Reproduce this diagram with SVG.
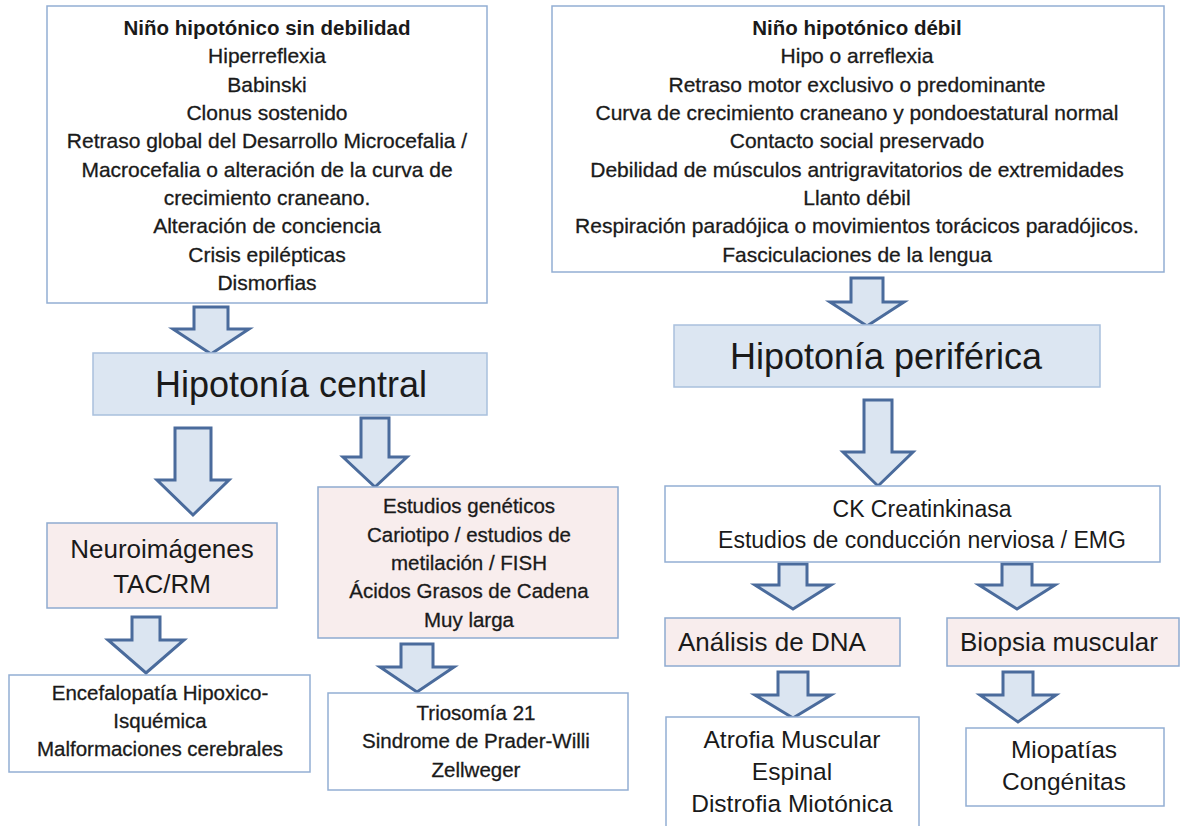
<svg xmlns="http://www.w3.org/2000/svg" width="1180" height="826" viewBox="0 0 1180 826">
<style>
.bg{fill:#ffffff}
.box{fill:#ffffff;stroke:#93aed3;stroke-width:1.5}
.blue{fill:#dce6f2;stroke:#a9c0dd;stroke-width:1.5}
.pink{fill:#f8eded;stroke:#8eaad0;stroke-width:1.5}
.arrow{fill:#dbe5f1;stroke:#4a6b9c;stroke-width:3;stroke-linejoin:miter}
text{font-family:"Liberation Sans",Arial,sans-serif;fill:#1a1a1a;text-anchor:middle}
.t{font-size:21px;stroke:#1a1a1a;stroke-width:0.3}
.tb{font-size:20.5px;font-weight:bold}
.big{font-size:36px}
.m{font-size:26px}
.s{font-size:20.5px;stroke:#1a1a1a;stroke-width:0.3}
.ck{font-size:23px}
.r{font-size:24.5px}
.l{text-anchor:start}
</style>
<rect class="bg" x="0" y="0" width="1180" height="826"/>

<g id="connectors">
<path class="arrow" d="M194,307 H228 V329 H249 L211,354 L173,329 H194 Z"/>
<path class="arrow" d="M175,428 H211 V480 H229 L193,515 L157,480 H175 Z"/>
<path class="arrow" d="M361,418 H389 V457 H407 L375,487 L343,457 H361 Z"/>
<path class="arrow" d="M132,617 H160 V640 H184 L146,673 L108,640 H132 Z"/>
<path class="arrow" d="M401,644 H433 V667 H454 L417,692 L380,667 H401 Z"/>
<path class="arrow" d="M851,278 H883 V302 H904 L867,326 L830,302 H851 Z"/>
<path class="arrow" d="M864,400 H892 V452 H913 L878,486 L843,452 H864 Z"/>
<path class="arrow" d="M779,564 H807 V585 H831 L793,609 L755,585 H779 Z"/>
<path class="arrow" d="M1002,564 H1032 V585 H1055 L1017,609 L979,585 H1002 Z"/>
<path class="arrow" d="M778,672 H808 V695 H831 L793,718 L755,695 H778 Z"/>
<path class="arrow" d="M1003,672 H1033 V695 H1056 L1018,722 L980,695 H1003 Z"/>
</g>

<g id="sin-debilidad">
<rect class="box" x="47" y="6" width="440" height="297"/>
<text class="tb" x="267" y="35">Niño hipotónico sin debilidad</text>
<text class="t" x="267" y="63">Hiperreflexia</text>
<text class="t" x="267" y="92">Babinski</text>
<text class="t" x="267" y="120">Clonus sostenido</text>
<text class="t" x="267" y="148">Retraso global del Desarrollo Microcefalia /</text>
<text class="t" x="267" y="177">Macrocefalia o alteración de la curva de</text>
<text class="t" x="267" y="205">crecimiento craneano.</text>
<text class="t" x="267" y="233">Alteración de conciencia</text>
<text class="t" x="267" y="262">Crisis epilépticas</text>
<text class="t" x="267" y="290">Dismorfias</text>
</g>

<g id="debil">
<rect class="box" x="552" y="6" width="612" height="266"/>
<text class="tb" x="857" y="35">Niño hipotónico débil</text>
<text class="t" x="857" y="63">Hipo o arreflexia</text>
<text class="t" x="857" y="92">Retraso motor exclusivo o predominante</text>
<text class="t" x="857" y="120">Curva de crecimiento craneano y pondoestatural normal</text>
<text class="t" x="857" y="148">Contacto social preservado</text>
<text class="t" x="857" y="177">Debilidad de músculos antrigravitatorios de extremidades</text>
<text class="t" x="857" y="205">Llanto débil</text>
<text class="t" x="857" y="233">Respiración paradójica o movimientos torácicos paradójicos.</text>
<text class="t" x="857" y="262">Fasciculaciones de la lengua</text>
</g>

<g id="hipotonia-central">
<rect class="blue" x="93" y="353" width="394" height="62"/>
<text class="big" x="291" y="397">Hipotonía central</text>
</g>

<g id="hipotonia-periferica">
<rect class="blue" x="674" y="325" width="426" height="62"/>
<text class="big" x="886" y="369">Hipotonía periférica</text>
</g>

<g id="neuroimagenes">
<rect class="pink" x="47" y="523" width="230" height="85"/>
<text class="m" x="162" y="558">Neuroimágenes</text>
<text class="m" x="162" y="593">TAC/RM</text>
</g>

<g id="estudios-geneticos">
<rect class="pink" x="318" y="487" width="300" height="151"/>
<text class="s" x="469" y="513">Estudios genéticos</text>
<text class="s" x="469" y="542">Cariotipo / estudios de</text>
<text class="s" x="469" y="570">metilación / FISH</text>
<text class="s" x="469" y="598">Ácidos Grasos de Cadena</text>
<text class="s" x="469" y="627">Muy larga</text>
</g>

<g id="encefalopatia">
<rect class="box" x="9" y="675" width="301" height="97"/>
<text class="s" x="160" y="700">Encefalopatía Hipoxico-</text>
<text class="s" x="160" y="728">Isquémica</text>
<text class="s" x="160" y="756">Malformaciones cerebrales</text>
</g>

<g id="triosomia">
<rect class="box" x="328" y="693" width="300" height="97"/>
<text class="s" x="476" y="720">Triosomía 21</text>
<text class="s" x="476" y="748">Sindrome de Prader-Willi</text>
<text class="s" x="476" y="777">Zellweger</text>
</g>

<g id="ck">
<rect class="box" x="665" y="486" width="495" height="76"/>
<text class="ck" x="922" y="517">CK Creatinkinasa</text>
<text class="ck" x="922" y="548">Estudios de conducción nerviosa / EMG</text>
</g>

<g id="analisis-dna">
<rect class="pink" x="665" y="618" width="235" height="48"/>
<text class="m l" x="678" y="651">Análisis de DNA</text>
</g>

<g id="biopsia">
<rect class="pink" x="947" y="618" width="232" height="48"/>
<text class="m l" x="960" y="651">Biopsia muscular</text>
</g>

<g id="atrofia">
<rect class="box" x="666" y="717" width="253" height="120"/>
<text class="r" x="792" y="748">Atrofia Muscular</text>
<text class="r" x="792" y="780">Espinal</text>
<text class="r" x="792" y="812">Distrofia Miotónica</text>
</g>

<g id="miopatias">
<rect class="box" x="966" y="728" width="198" height="78"/>
<text class="r" x="1064" y="758">Miopatías</text>
<text class="r" x="1064" y="790">Congénitas</text>
</g>
</svg>
